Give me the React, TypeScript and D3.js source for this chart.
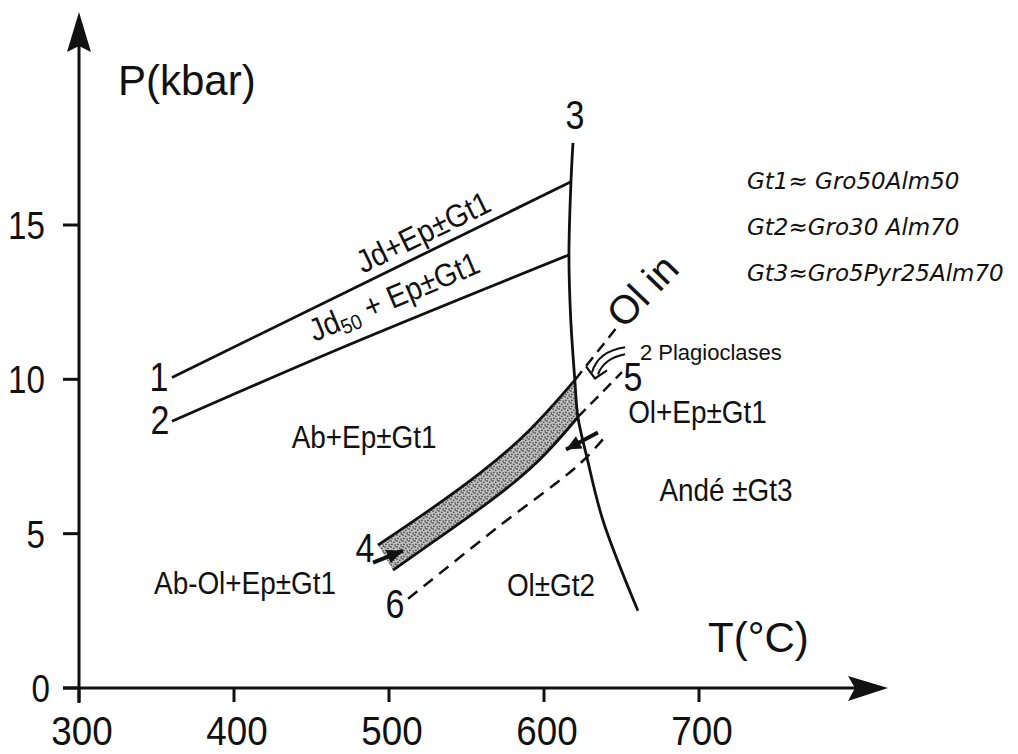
import React from 'react';
import * as d3 from 'd3';

const W = 1018;
const H = 754;

// axis ticks
const tempTicks = [300, 400, 500, 600, 700];
const pressTicks = [0, 5, 10, 15];

// reaction curves, [T (°C), P (kbar)]
const line1 = [[360, 10.06], [617.4, 16.4]];
const line2 = [[360, 8.64], [468.4, 11.0], [616, 14.03]];
const curve3 = [[618.7, 17.66], [617.4, 16.4], [616.1, 14.03], [617.2, 12.0], [619.9, 9.97], [621.9, 8.77], [627.7, 7.47], [638.1, 5.42], [660.6, 2.5]];
const bandUpper = [[492.9, 4.63], [526.5, 5.77], [558.7, 6.93], [591, 8.29], [620, 9.98]];
const bandLower = [[502.6, 3.82], [532.9, 4.89], [565.2, 6.03], [597.4, 7.32], [621.9, 8.78]];
const dashOlIn = [[620, 9.98], [647.1, 11.69]];
const dash5 = [[621.9, 8.78], [650.3, 10.23]];
const dash6 = [[512.3, 2.89], [569.7, 5.19], [623.2, 7.27], [641.3, 8.25]];

// arrows [from, (control), to]
const arrow4 = [[489.7, 4.06], [509, 4.45]];
const arrowCurve = [[634.8, 8.28], [614.2, 7.73]];
const plagArrow = [[652.3, 10.94], [636.1, 10.81], [632.9, 10.03]];

// curve numbers
const curveNumbers = [
  { text: '1', t: 351.6, p: 10.06 },
  { text: '2', t: 352.3, p: 8.67 },
  { text: '3', t: 620, p: 18.57 },
  { text: '4', t: 484.5, p: 4.55 },
  { text: '5', t: 657.4, p: 10.06 },
  { text: '6', t: 503.9, p: 2.73 },
];

// field labels (centre of text)
const fieldLabels = [
  { text: 'Ab+Ep±Gt1', t: 483.9, p: 8.13 },
  { text: 'Ab-Ol+Ep±Gt1', t: 407.1, p: 3.4 },
  { text: 'Ol±Gt2', t: 604.5, p: 3.34 },
  { text: 'Ol+Ep±Gt1', t: 699, p: 8.94 },
  { text: 'Andé ±Gt3', t: 717.4, p: 6.41 },
];

const legendLines = ['Gt1≈ Gro50Alm50', 'Gt2≈Gro30 Alm70', 'Gt3≈Gro5Pyr25Alm70'];

const FONT = "'Liberation Sans', Arial, sans-serif";

function head(x1: number, y1: number, x2: number, y2: number, len: number, hw: number) {
  const a = Math.atan2(y2 - y1, x2 - x1);
  const bx = x2 - len * Math.cos(a);
  const by = y2 - len * Math.sin(a);
  const px = -Math.sin(a) * hw;
  const py = Math.cos(a) * hw;
  return `${x2},${y2} ${bx + px},${by + py} ${bx - px},${by - py}`;
}

export default function App() {
  const x = d3.scaleLinear().domain([300, 700]).range([79, 699]);
  const y = d3.scaleLinear().domain([0, 15]).range([688, 225]);
  const straight = d3.line<number[]>().x(d => x(d[0])).y(d => y(d[1]));
  const smooth = d3.line<number[]>().x(d => x(d[0])).y(d => y(d[1])).curve(d3.curveCatmullRom.alpha(0.5));
  const bandLine = d3.line<number[]>().x(d => x(d[0])).y(d => y(d[1])).curve(d3.curveBasis);

  const bandPath = bandLine(bandUpper) + (bandLine([...bandLower].reverse()) as string).replace(/^M/, 'L') + 'Z';

  const ang = (l: number[][]) => {
    const a = l[0], b = l[l.length - 1];
    return (Math.atan2(y(b[1]) - y(a[1]), x(b[0]) - x(a[0])) * 180) / Math.PI;
  };

  const stroke = '#111';
  const a4 = arrow4.map(d => [x(d[0]), y(d[1])]);
  const ac = arrowCurve.map(d => [x(d[0]), y(d[1])]);
  const pa = plagArrow.map(d => [x(d[0]), y(d[1])]);

  return (
    <svg width={W} height={H} style={{ position: 'absolute', left: 0, top: 0, background: '#fff' }} fontFamily={FONT}>
      <defs>
        <pattern id="stip" width="6" height="6" patternUnits="userSpaceOnUse">
          <rect width="6" height="6" fill="#bfbfbf" />
          <circle cx="1" cy="1" r="0.8" fill="#222" />
          <circle cx="3.8" cy="2.2" r="0.7" fill="#222" />
          <circle cx="1.9" cy="4.4" r="0.8" fill="#333" />
          <circle cx="5.1" cy="5.0" r="0.7" fill="#222" />
          <circle cx="5.3" cy="0.3" r="0.6" fill="#444" />
        </pattern>
      </defs>

      {/* axes */}
      <line x1={x(300)} y1={703} x2={x(300)} y2={45} stroke={stroke} strokeWidth={3} />
      <polygon points={`${x(300)},12 ${x(300) - 12},52 ${x(300)},46 ${x(300) + 12},52`} fill={stroke} />
      <line x1={63} y1={y(0)} x2={855} y2={y(0)} stroke={stroke} strokeWidth={3} />
      <polygon points={`888,${y(0)} 848,${y(0) - 12} 855,${y(0)} 848,${y(0) + 13}`} fill={stroke} />
      {tempTicks.map(t => (
        <g key={t}>
          <line x1={x(t)} x2={x(t)} y1={y(0)} y2={y(0) + 14} stroke={stroke} strokeWidth={3} />
          <text transform={`translate(${x(t) + 3},745) scale(0.92,1)`} fontSize={40} textAnchor="middle" fill={stroke}>{t}</text>
        </g>
      ))}
      {pressTicks.map(p => (
        <g key={p}>
          <line x1={63} x2={x(300)} y1={y(p)} y2={y(p)} stroke={stroke} strokeWidth={3} />
          <text transform={`translate(${p === 0 ? 50 : 45},${y(p) + 14}) scale(0.85,1)`} fontSize={39} textAnchor="end" fill={stroke}>{p}</text>
        </g>
      ))}
      <text x={118} y={95} fontSize={42} fill={stroke}>P(kbar)</text>
      <text x={708} y={652} fontSize={42} fill={stroke}>T(°C)</text>

      {/* band */}
      <path d={bandPath} fill="url(#stip)" stroke="none" />
      <path d={bandLine(bandUpper) as string} fill="none" stroke={stroke} strokeWidth={2.8} />
      <path d={bandLine(bandLower) as string} fill="none" stroke={stroke} strokeWidth={2.8} />

      {/* reaction lines */}
      <path d={straight(line1) as string} fill="none" stroke={stroke} strokeWidth={2.8} />
      <path d={smooth(line2) as string} fill="none" stroke={stroke} strokeWidth={2.8} />
      <path d={smooth(curve3) as string} fill="none" stroke={stroke} strokeWidth={2.8} />
      <path d={straight(dashOlIn) as string} fill="none" stroke={stroke} strokeWidth={2.5} strokeDasharray="11 7" />
      <path d={straight(dash5) as string} fill="none" stroke={stroke} strokeWidth={2.5} strokeDasharray="11 7" />
      <path d={smooth(dash6) as string} fill="none" stroke={stroke} strokeWidth={2.5} strokeDasharray="12 8" />

      {/* arrows */}
      <line x1={a4[0][0]} y1={a4[0][1]} x2={a4[1][0]} y2={a4[1][1]} stroke={stroke} strokeWidth={4} />
      <polygon points={head(a4[0][0], a4[0][1], a4[1][0], a4[1][1], 16, 7)} fill={stroke} />
      <line x1={ac[0][0]} y1={ac[0][1]} x2={ac[1][0]} y2={ac[1][1]} stroke={stroke} strokeWidth={4} />
      <polygon points={head(ac[0][0], ac[0][1], ac[1][0], ac[1][1], 15, 7)} fill={stroke} />
      <path d={`M${pa[0][0]},${pa[0][1] - 3} Q${pa[1][0] - 2},${pa[1][1] - 3} ${pa[2][0] - 3},${pa[2][1] - 6}`} fill="none" stroke={stroke} strokeWidth={2} />
      <path d={`M${pa[0][0]},${pa[0][1] + 4} Q${pa[1][0] + 4},${pa[1][1] + 4} ${pa[2][0] + 3},${pa[2][1] - 4}`} fill="none" stroke={stroke} strokeWidth={2} />
      <polyline points={`${pa[2][0] - 9},${pa[2][1] - 12} ${pa[2][0]},${pa[2][1]} ${pa[2][0] + 12},${pa[2][1] - 8}`} fill="none" stroke={stroke} strokeWidth={2.2} />

      {/* curve numbers */}
      {curveNumbers.map(c => (
        <text key={c.text} transform={`translate(${x(c.t)},${y(c.p) + 14}) scale(0.85,1)`} fontSize={40} textAnchor="middle" fill={stroke}>{c.text}</text>
      ))}

      {/* rotated labels along lines */}
      <text transform={`translate(${x(525.2)},${y(14.45)}) rotate(${ang(line1)}) scale(0.9,1)`} fontSize={32} textAnchor="middle" fill={stroke}>Jd+Ep±Gt1</text>
      <text transform={`translate(${x(506)},${y(12.35)}) rotate(${ang(line2)}) scale(0.9,1)`} fontSize={32} textAnchor="middle" fill={stroke}>
        Jd<tspan fontSize={21} dy={5}>50</tspan><tspan dy={-5}> + Ep±Gt1</tspan>
      </text>
      <text transform={`translate(${x(651.5)},${y(11.6)}) rotate(-46)`} fontSize={40} textAnchor="start" fill={stroke}>Ol in</text>
      <text x={x(661.9)} y={y(10.86) + 7} fontSize={22} fill={stroke}>2 Plagioclases</text>

      {/* field labels */}
      {fieldLabels.map(f => (
        <text key={f.text} transform={`translate(${x(f.t)},${y(f.p) + 11}) scale(0.9,1)`} fontSize={31} textAnchor="middle" fill={stroke}>{f.text}</text>
      ))}

      {/* legend */}
      {legendLines.map((l, i) => (
        <text key={l} x={747} y={189 + i * 46} fontSize={23} fontStyle="italic" fontFamily="'DejaVu Sans', sans-serif" fill={stroke}>{l}</text>
      ))}
    </svg>
  );
}
